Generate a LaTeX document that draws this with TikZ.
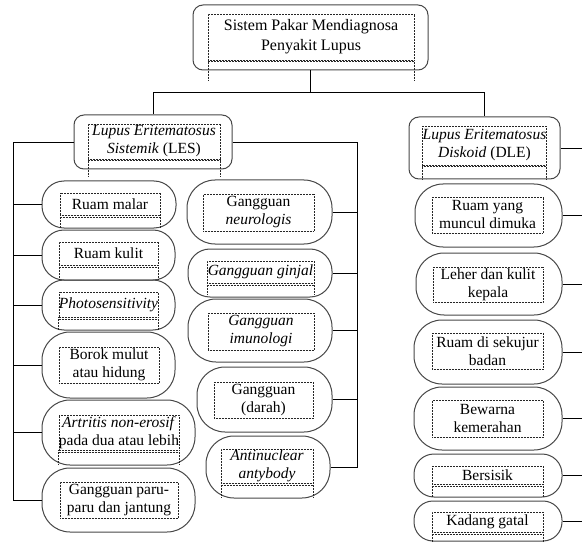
\documentclass[tikz,border=0pt]{standalone}
\usepackage{fontspec}
\setmainfont{Liberation Serif}
\usetikzlibrary{positioning,fit}

\begin{document}
\begin{tikzpicture}[
    x=1pt, y=-1pt,
    box/.style={rectangle, draw=black!72, line width=1pt, rounded corners=10pt, inner sep=0pt},
    pill/.style={rectangle, draw=black!72, line width=1pt, rounded corners=28pt, inner sep=0pt},
    txt/.style={rectangle, draw=black!85, densely dotted, line width=0.5pt, inner sep=0pt, align=center, font=\fontsize{15.5}{18}\selectfont},
    tail/.style={draw=black!85, densely dotted, line width=0.5pt},
    link/.style={draw=black, line width=0.9pt}
]
    \useasboundingbox (0,0) rectangle (582,543);

    % top
    \node[box, fit={(193,5) (428,70)}] (root) {};
    \node[txt, font=\fontsize{16}{20}\selectfont, minimum width=206, minimum height=46] (rootT) at (311,37) {Sistem Pakar Mendiagnosa\\Penyakit Lupus};

    % two groups
    \node[box, fit={(74,115) (232,169)}] (les) {};
    \node[txt, minimum width=132, minimum height=35] (lesT) at (154,141.5) {\textit{Lupus Eritematosus}\\\textit{Sistemik} (LES)};
    \node[box, fit={(409,117) (560,179)}] (dle) {};
    \node[txt, minimum width=123, minimum height=39] (dleT) at (484.5,145.5) {\textit{Lupus Eritematosus}\\\textit{Diskoid} (DLE)};

    % LES, left column
    \node[pill, rounded corners=22pt, fit={(42,181) (176,228)}] (malar) {};
    \node[txt, minimum width=100, minimum height=22] (malarT) at (110,204) {Ruam malar};
    \node[pill, rounded corners=22pt, fit={(42,230) (175,280)}] (kulit) {};
    \node[txt, minimum width=99, minimum height=23] (kulitT) at (108.5,253.5) {Ruam kulit};
    \node[pill, rounded corners=22pt, fit={(42,280) (175,330)}] (photo) {};
    \node[txt, minimum width=99, minimum height=25] (photoT) at (108.5,304.5) {\textit{Photosensitivity}};
    \node[pill, fit={(42,332) (175,398)}] (borok) {};
    \node[txt, minimum width=100, minimum height=36] (borokT) at (109,365) {Borok mulut\\atau hidung};
    \node[pill, fit={(42,400) (195,465)}] (artritis) {};
    \node[txt, minimum width=118, minimum height=35] (artritisT) at (119,432.5) {\textit{Artritis non-erosif}\\pada dua atau lebih};
    \node[pill, fit={(42,468) (195,532)}] (paru) {};
    \node[txt, minimum width=118, minimum height=36] (paruT) at (119,500) {Gangguan paru-\\paru dan jantung};

    % LES, middle column
    \node[pill, fit={(187,180) (332,244)}] (neuro) {};
    \node[txt, minimum width=111, minimum height=37] (neuroT) at (258.5,212.5) {Gangguan\\\textit{neurologis}};
    \node[pill, rounded corners=22pt, fit={(188,249) (332,297)}] (ginjal) {};
    \node[txt, minimum width=107, minimum height=22] (ginjalT) at (260.5,272) {\textit{Gangguan ginjal}};
    \node[pill, fit={(188,299) (332,362)}] (imuno) {};
    \node[txt, minimum width=106, minimum height=37] (imunoT) at (261,331.5) {\textit{Gangguan}\\\textit{imunologi}};
    \node[pill, fit={(197,367) (332,432)}] (darah) {};
    \node[txt, minimum width=99, minimum height=36] (darahT) at (263.5,400) {Gangguan\\(darah)};
    \node[pill, fit={(206,436) (330,498)}] (anti) {};
    \node[txt, minimum width=92, minimum height=34] (antiT) at (267,466) {\textit{Antinuclear}\\\textit{antybody}};

    % DLE column
    \node[pill, fit={(415,184) (562,247)}] (muka) {};
    \node[txt, minimum width=111, minimum height=36] (mukaT) at (487.5,215) {Ruam yang\\muncul dimuka};
    \node[pill, fit={(416,253) (562,315)}] (leher) {};
    \node[txt, minimum width=110, minimum height=35] (leherT) at (488,284.5) {Leher dan kulit\\kepala};
    \node[pill, fit={(414,320) (562,384)}] (badan) {};
    \node[txt, minimum width=111, minimum height=36] (badanT) at (487.5,351) {Ruam di sekujur\\badan};
    \node[pill, fit={(414,387) (562,450)}] (merah) {};
    \node[txt, minimum width=111, minimum height=37] (merahT) at (487.5,418.5) {Bewarna\\kemerahan};
    \node[pill, rounded corners=20pt, fit={(414,454) (562,497)}] (sisik) {};
    \node[txt, minimum width=111, minimum height=18] (sisikT) at (487.5,475) {Bersisik};
    \node[pill, rounded corners=19pt, fit={(414,501) (562,541)}] (gatal) {};
    \node[txt, minimum width=111, minimum height=20] (gatalT) at (487.5,522) {Kadang gatal};

    % dotted tails of the text frames
    \foreach \n/\d in {rootT/20, lesT/18, dleT/14, malarT/13, kulitT/14, photoT/13, artritisT/15, ginjalT/12, antiT/15, sisikT/13, gatalT/11}
        \draw[tail] (\n.south west) -- ++(0,\d) (\n.south east) -- ++(0,\d)
            ([yshift=-1.5pt]\n.south west) -- ([yshift=-1.5pt]\n.south east);

    % connectors
    \coordinate (edge) at (582,0);
    \draw[link] (root.south) -- ++(0,22) coordinate (hub);
    \draw[link] (les.north) |- (hub) -| (dle.north);
    \draw[link] (les.west) -| ([xshift=-28pt]paru.west) -- (paru.west);
    \foreach \n in {malar,kulit,photo,borok,artritis}
        \draw[link] (\n.west) -- ++(-28,0);
    \draw[link] (les.east) -| ([xshift=27pt]anti.east) -- (anti.east);
    \foreach \n in {neuro,ginjal,imuno,darah}
        \draw[link] (\n.east) -- ++(25,0);
    \foreach \n in {dle,muka,leher,badan,merah,sisik,gatal}
        \draw[link] (\n.east) -- (\n.east -| edge);
\end{tikzpicture}
\end{document}
